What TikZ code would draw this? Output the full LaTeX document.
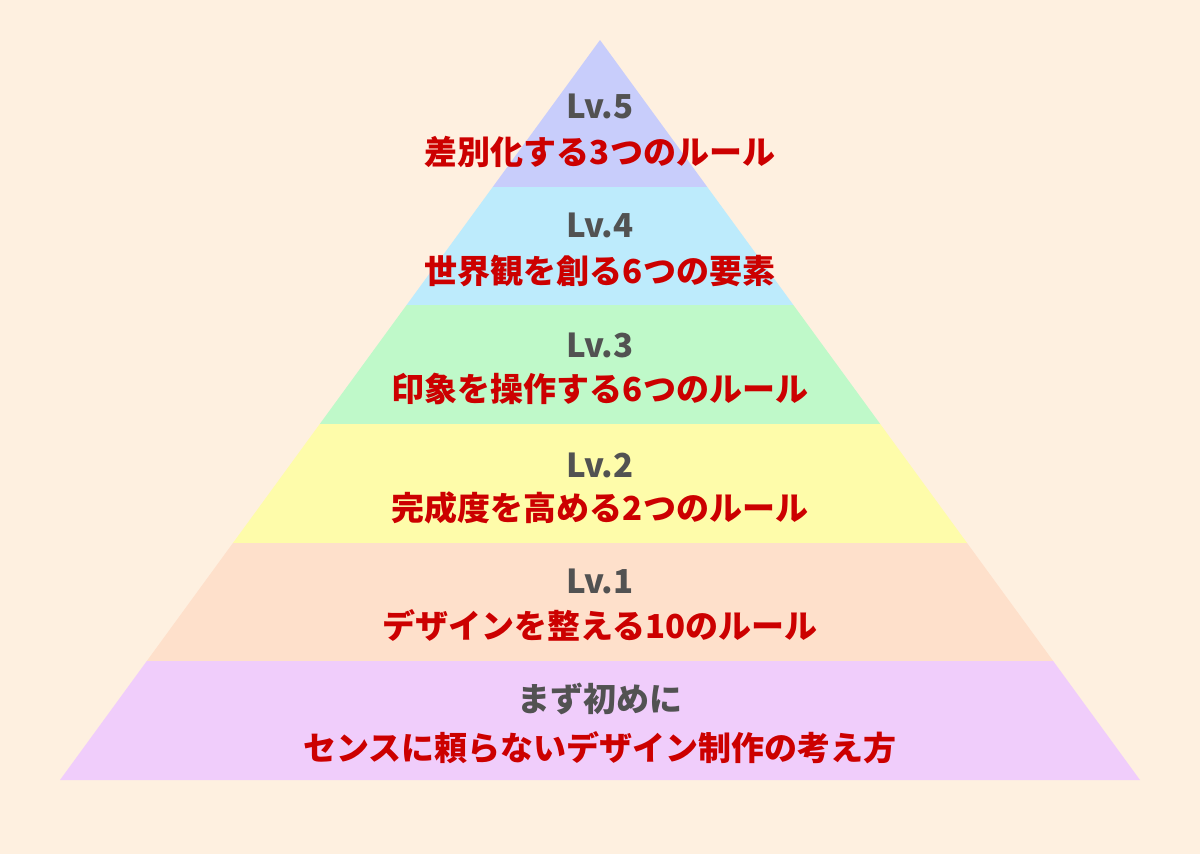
\documentclass[tikz,border=0pt]{standalone}
\usepackage{fontspec}
\IfFontExistsTF{Noto Sans CJK JP Black}
  {\newfontfamily\jp{Noto Sans CJK JP Black}}
  {\newfontfamily\jp{Noto Sans CJK JP}[UprightFont={* Bold}]}
\usetikzlibrary{calc}
\definecolor{bgc}{HTML}{FEF0E0}
\definecolor{cfive}{HTML}{C8CDFB}
\definecolor{cfour}{HTML}{BDEBFC}
\definecolor{cthree}{HTML}{BFF9C9}
\definecolor{ctwo}{HTML}{FEFCAA}
\definecolor{cone}{HTML}{FEE0CB}
\definecolor{czero}{HTML}{F0CDFB}
\definecolor{graytxt}{HTML}{525252}
\definecolor{redtxt}{HTML}{CC0000}
\tikzset{
  lvl/.style={text=graytxt, font=\jp\fontsize{33bp}{40bp}\selectfont, inner sep=0pt},
  ttl/.style={text=redtxt, font=\jp\fontsize{33bp}{40bp}\selectfont, inner sep=0pt}
}
\newcommand{\pyrband}[3]{%
  \fill[#3] ($(A)!#1!(BL)$) -- ($(A)!#2!(BL)$) -- ($(A)!#2!(BR)$) -- ($(A)!#1!(BR)$) -- cycle;}
\begin{document}
\begin{tikzpicture}[x=1bp,y=-1bp]
\fill[bgc] (0,0) rectangle (1200,854);
\useasboundingbox (0,0) rectangle (1200,854);
\coordinate (A) at (600,40);
\coordinate (BL) at (60,780);
\coordinate (BR) at (1140,780);
\pyrband{0}{0.19865}{cfive}
\pyrband{0.19865}{0.35811}{cfour}
\pyrband{0.35811}{0.51892}{cthree}
\pyrband{0.51892}{0.67973}{ctwo}
\pyrband{0.67973}{0.83919}{cone}
\pyrband{0.83919}{1}{czero}
\node[lvl] (l5) at (600,106) {Lv.5};
\node[ttl] (t5) at (600,152) {差別化する3つのルール};
\node[lvl] (l4) at (600,225) {Lv.4};
\node[ttl] (t4) at (600,271) {世界観を創る6つの要素};
\node[lvl] (l3) at (600,345) {Lv.3};
\node[ttl] (t3) at (600,389) {印象を操作する6つのルール};
\node[lvl] (l2) at (600,465) {Lv.2};
\node[ttl] (t2) at (600,508) {完成度を高める2つのルール};
\node[lvl] (l1) at (600,581) {Lv.1};
\node[ttl] (t1) at (600,625) {デザインを整える10のルール};
\node[lvl] (l0) at (600,699) {まず初めに};
\node[ttl] (t0) at (600,748) {センスに頼らないデザイン制作の考え方};
\end{tikzpicture}
\end{document}
